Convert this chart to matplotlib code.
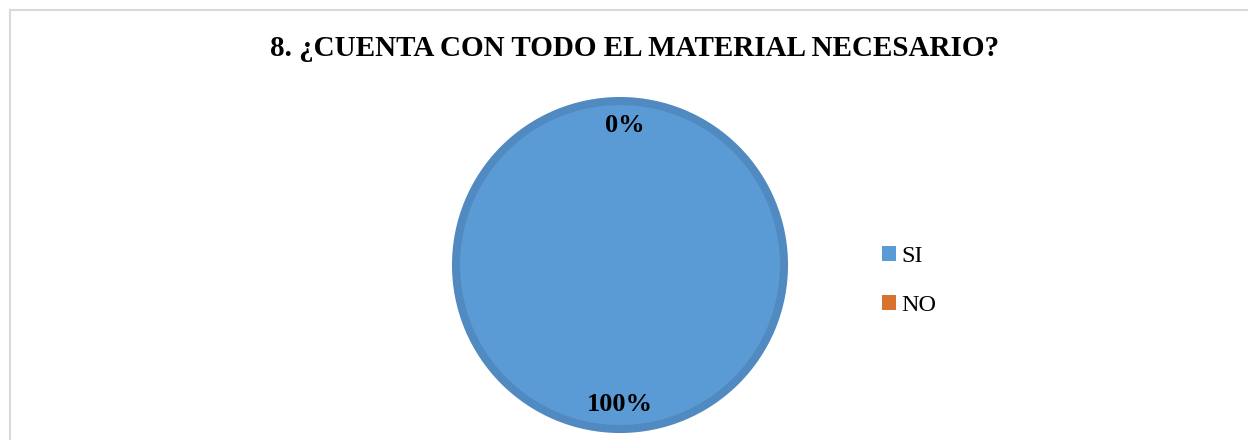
import matplotlib.pyplot as plt
from matplotlib.lines import Line2D

categories = ["SI", "NO"]
values = [100, 0]
colors = ["#5B9BD5", "#D9722F"]
ring_color = "#5189C1"
title = "8. ¿CUENTA CON TODO EL MATERIAL NECESARIO?"

W, H = 1248, 440
fig = plt.figure(figsize=(W / 100, H / 100), dpi=100)
plt.rcParams['font.family'] = ['Liberation Serif', 'DejaVu Serif']

# chart frame (only top and left edges show)
fig.add_artist(Line2D([9.5 / W, 1], [1 - 10.5 / H, 1 - 10.5 / H], color="#D9D9D9", lw=1.5))
fig.add_artist(Line2D([9.5 / W, 9.5 / W], [0, 1 - 10.5 / H], color="#D9D9D9", lw=1.5))

fig.text(635 / W, 1 - 49 / H, title, ha="center", va="center",
         fontsize=21, fontweight="bold")

# pie area: centre (620, 265), radius 168 px
r = 168
ax = fig.add_axes([(620 - r) / W, (H - 265 - r) / H, 2 * r / W, 2 * r / H])
wedges, texts, autotexts = ax.pie(
    values, colors=colors, startangle=90, counterclock=False,
    radius=(r - 4) / r, autopct='%1.0f%%', pctdistance=0.85,
    wedgeprops=dict(edgecolor=ring_color, linewidth=5.8),
    textprops=dict(fontsize=19, fontweight="bold", color="black"))
wedges[1].set_linewidth(0)
autotexts[1].set_x(autotexts[1].get_position()[0] + 0.03)
ax.set_xlim(-1, 1)
ax.set_ylim(-1, 1)
ax.set_aspect("equal")
ax.axis("off")

leg = fig.legend(wedges, categories, loc="center left",
                 bbox_to_anchor=(860 / W, 1 - 281 / H), frameon=False,
                 fontsize=17.5, handlelength=0.6, handleheight=0.6,
                 handletextpad=0.2, labelspacing=1.15)
for h in leg.legend_handles:
    h.set_linewidth(0)

fig.savefig("out.png", dpi=100)
